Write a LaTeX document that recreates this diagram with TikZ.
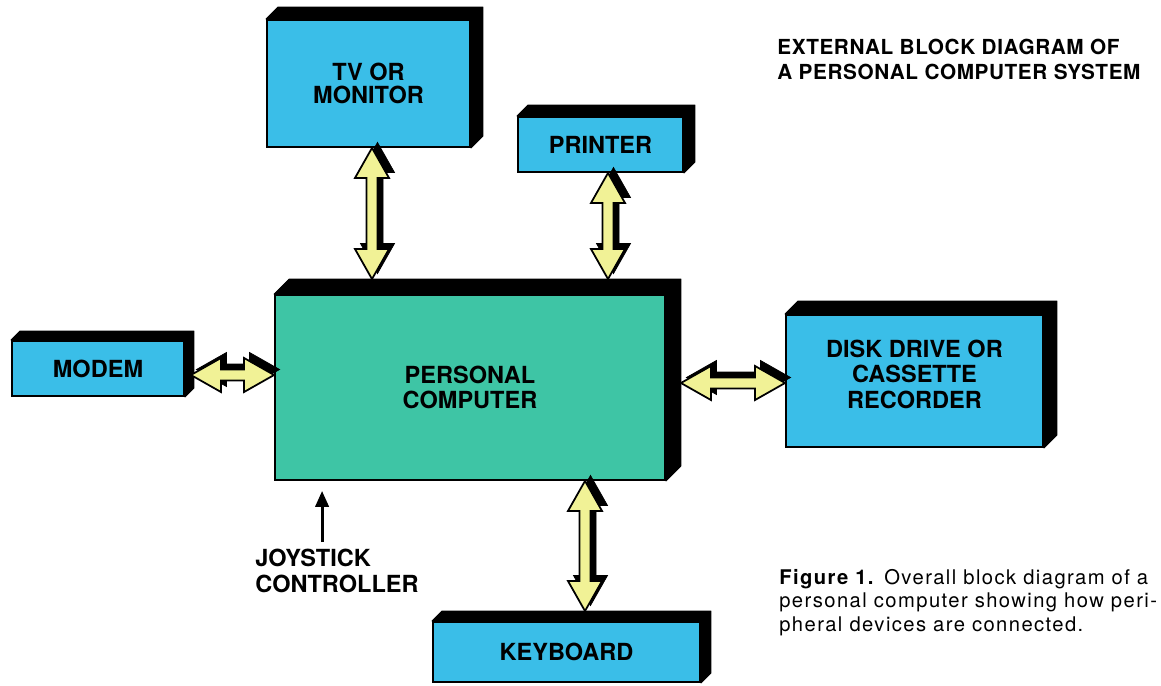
\documentclass[tikz,border=0pt]{standalone}
\usepackage{fontspec}
\setmainfont{TeX Gyre Heros}
\usetikzlibrary{arrows.meta, calc, positioning}

\definecolor{unitblue}{RGB}{58,190,232}
\definecolor{hostgreen}{RGB}{62,197,165}
\definecolor{linkyellow}{RGB}{241,242,150}

\newcommand\unitfont{\fontsize{13.4}{14.5}\selectfont\bfseries}
\newcommand\titlefont{\fontsize{11.8}{14.2}\selectfont\bfseries\addfontfeatures{LetterSpace=3}}
\newcommand\capfont{\fontsize{11.5}{13.4}\selectfont\addfontfeatures{LetterSpace=7}}

% black top and right faces behind a box
\newcommand\slab[2]{%
  \filldraw[line width=.5pt, line join=round] (#1.north west) -- ++(#2,-#2)
    -- ([shift={(#2,-#2)}]#1.north east) -- ([shift={(#2,-#2)}]#1.south east)
    -- (#1.south east) -- (#1.north east) -- cycle;}

\tikzset{%
  unit/.style={draw=black, line width=1.1pt, fill=unitblue, inner sep=0pt, align=center, font=\unitfont},
  host/.style={unit, fill=hostgreen},
  link/.style={draw=black, line width=1pt, fill=linkyellow, line join=miter,
    preaction={draw=black, fill=black, transform canvas={shift={(5.5,-5.5)}}},
    to path={-- ($(\tikztostart)!.6cm!(\tikztotarget)!.34cm!90:(\tikztotarget)$)
      -- ($(\tikztostart)!.6cm!(\tikztotarget)!.11cm!90:(\tikztotarget)$)
      -- ($(\tikztotarget)!.6cm!(\tikztostart)!.11cm!-90:(\tikztostart)$)
      -- ($(\tikztotarget)!.6cm!(\tikztostart)!.34cm!-90:(\tikztostart)$)
      -- (\tikztotarget)
      -- ($(\tikztotarget)!.6cm!(\tikztostart)!.34cm!90:(\tikztostart)$)
      -- ($(\tikztotarget)!.6cm!(\tikztostart)!.11cm!90:(\tikztostart)$)
      -- ($(\tikztostart)!.6cm!(\tikztotarget)!.11cm!-90:(\tikztotarget)$)
      -- ($(\tikztostart)!.6cm!(\tikztotarget)!.34cm!-90:(\tikztotarget)$)
      -- cycle}},
  jack/.style={line width=1.7pt, -{Triangle[length=9pt, width=7.5pt]}, shorten <=.14cm},
  note/.style={inner sep=0pt, anchor=north west, align=left},
}

\begin{document}
\begin{tikzpicture}[x=0.02cm, y=-0.02cm]
  \useasboundingbox (0,0) rectangle (1161,686);

  \node[host, minimum width=7.8cm, minimum height=3.7cm] (pc) at (470,387.5) {PERSONAL\\COMPUTER};
  \node[unit, minimum width=4.06cm, minimum height=2.54cm, font=\fontsize{13.4}{12.8}\selectfont\bfseries] (tv) at (368.5,83.5) {TV OR\\MONITOR};
  \node[unit, minimum width=3.3cm, minimum height=1.1cm] (prn) at (600.5,144.5) {PRINTER};
  \node[unit, minimum width=3.44cm, minimum height=1.1cm] (modem) at (98,368.5) {MODEM};
  \node[unit, minimum width=5.14cm, minimum height=2.64cm] (disk) at (914.5,381) {DISK DRIVE OR\\CASSETTE\\RECORDER\\[-.23cm]};
  \node[unit, minimum width=5.34cm, minimum height=1.2cm] (kbd) at (566.5,652) {KEYBOARD};

  \slab{pc}{15}
  \slab{tv}{12}
  \slab{prn}{11}
  \slab{modem}{9}
  \slab{disk}{13}
  \slab{kbd}{10}

  \path (pc.north west) ++(15,-15) coordinate (pc-back);
  \path (pc.south east) ++(15,-15) coordinate (pc-side);
  \path (kbd.north west) ++(10,-10) coordinate (kbd-back);

  % buses
  \coordinate (tv-port) at ([shift={(3.5,0)}]tv.south);
  \coordinate (prn-port) at ([shift={(7.5,0)}]prn.south);
  \coordinate (kbd-port) at ([shift={(18.5,0)}]kbd.north);
  \coordinate (modem-port) at ([shift={(6,6.5)}]modem.east);
  \coordinate (disk-port) at ([shift={(0,2)}]disk.west);
  \draw[link] (tv-port) to (tv-port |- pc-back);
  \draw[link] (prn-port) to (prn-port |- pc-back);
  \draw[link] (pc.south -| kbd-port) to (kbd-port |- kbd-back);
  \draw[link] (modem-port) to (modem-port -| pc.west);
  \draw[link] (disk-port -| pc-side) to (disk-port);

  % joystick
  \node[note, font=\unitfont] (joystick) at (255,549) {JOYSTICK\\CONTROLLER};
  \coordinate (jack-end) at ([shift={(48,10)}]pc.south west);
  \draw[jack] (jack-end |- joystick.north) -- (jack-end);

  \node[note, font=\titlefont] (title) at (777,39) {EXTERNAL BLOCK DIAGRAM OF\\A PERSONAL COMPUTER SYSTEM};
  \node[note, font=\capfont] (caption) at (779,569) {\textbf{Figure 1.} Overall block diagram of a\\personal computer showing how peri-\\pheral devices are connected.};
\end{tikzpicture}
\end{document}
